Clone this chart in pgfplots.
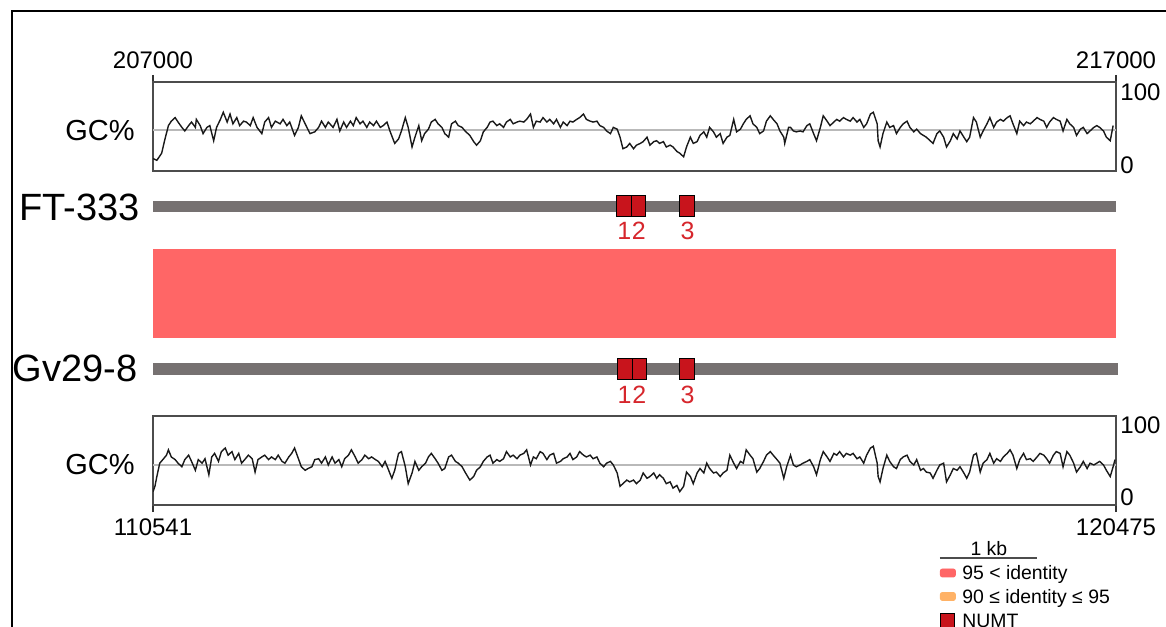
\documentclass[border=0pt]{standalone}
\usepackage{pgfplots}
\pgfplotsset{compat=1.18}
\usepackage{fontspec}
\setmainfont{Liberation Sans}
\definecolor{pinkband}{RGB}{255,102,102}
\definecolor{orangeband}{RGB}{255,178,102}
\definecolor{numtred}{RGB}{200,20,28}
\definecolor{labelred}{RGB}{214,38,44}
\definecolor{trackgray}{RGB}{118,113,113}
\newcommand\tickfont{\fontsize{12}{14}\selectfont}
\newcommand\gcfont{\fontsize{14.5}{17}\selectfont}
\newcommand\namefont{\fontsize{19}{22}\selectfont}
\newcommand\numfont{\fontsize{12.5}{15}\selectfont}
\newcommand\legfont{\fontsize{9.7}{11}\selectfont}
\pgfplotsset{gcaxis/.style={scale only axis, width=481.5pt, height=44.5pt,
  xmin=0, xmax=10, ymin=0, ymax=100, ytick=\empty, xtick={0,10}, xticklabels={,,},
  tick align=outside, major tick length=3.5pt,
  axis line style={black!70, line width=0.6pt},
  tick style={black!80, line width=0.6pt},
  clip mode=individual}}
\begin{document}
\begin{tikzpicture}
% ---------- top GC% ----------
\begin{axis}[gcaxis, at={(76.5pt,-85.5pt)}, anchor=south west, xtick pos=right]
\addplot[gray!55, line width=0.7pt, forget plot] coordinates {(0,46) (10,46)};
\addplot[black!90, line width=0.7pt] coordinates {
(0.00,14)(0.04,12)(0.09,20)(0.12,34)(0.16,51)(0.19,56)(0.23,60)(0.26,55)(0.30,49)(0.33,45)(0.37,51)(0.40,55)(0.44,49)(0.45,58)(0.49,51)(0.52,42)(0.56,49)(0.59,51)(0.63,34)(0.66,49)(0.70,58)(0.73,66)(0.77,55)(0.80,64)(0.83,53)(0.87,60)(0.90,51)(0.94,56)(0.97,55)(1.01,51)(1.04,60)(1.08,49)(1.13,42)(1.16,55)(1.20,60)(1.23,49)(1.27,56)(1.32,53)(1.35,58)(1.39,51)(1.42,55)(1.47,40)(1.51,49)(1.54,62)(1.58,53)(1.63,42)(1.68,44)(1.72,49)(1.75,56)(1.79,49)(1.82,55)(1.87,49)(1.91,58)(1.94,45)(1.98,55)(2.01,49)(2.05,56)(2.08,51)(2.11,60)(2.15,53)(2.18,56)(2.22,49)(2.25,55)(2.29,51)(2.32,56)(2.36,49)(2.39,51)(2.43,55)(2.46,45)(2.51,31)(2.55,36)(2.58,45)(2.62,60)(2.65,49)(2.69,27)(2.72,38)(2.76,51)(2.79,34)(2.82,42)(2.86,47)(2.89,55)(2.93,58)(2.96,53)(3.00,49)(3.03,42)(3.07,38)(3.10,53)(3.14,56)(3.17,51)(3.21,49)(3.24,45)(3.27,42)
(3.29,40)(3.33,33)(3.36,29)(3.40,34)(3.43,44)(3.47,49)(3.50,55)(3.53,56)(3.57,51)(3.60,53)(3.64,49)(3.67,55)(3.71,58)(3.74,53)(3.78,55)(3.81,56)(3.85,55)(3.88,58)(3.92,64)(3.95,49)(3.98,56)(4.02,55)(4.05,60)(4.09,55)(4.12,58)(4.16,53)(4.19,58)(4.23,49)(4.26,55)(4.30,51)(4.33,56)(4.36,55)(4.40,58)(4.43,60)(4.47,64)(4.50,58)(4.54,56)(4.57,55)(4.61,56)(4.64,51)(4.68,49)(4.71,45)(4.75,42)(4.78,49)(4.82,47)(4.85,38)(4.88,25)(4.92,27)(4.95,31)(4.99,25)(5.02,29)(5.06,31)(5.09,33)(5.13,38)(5.16,29)(5.20,33)(5.23,34)(5.26,31)(5.30,33)(5.33,27)(5.37,29)(5.40,27)(5.44,22)(5.47,20)(5.51,16)(5.54,27)(5.58,38)(5.61,31)(5.65,33)(5.68,40)(5.72,44)(5.75,38)(5.78,49)(5.82,44)(5.85,38)(5.89,42)(5.92,31)(5.96,38)(5.99,40)(6.03,58)(6.06,44)(6.10,47)(6.13,53)(6.16,58)(6.20,62)(6.23,53)(6.27,49)(6.30,42)(6.34,45)(6.37,56)(6.41,62)(6.44,58)(6.48,53)(6.51,45)(6.55,38)(6.56,31)(6.60,49)
(6.62,49)(6.65,45)(6.68,44)(6.72,45)(6.75,44)(6.79,51)(6.82,53)(6.86,42)(6.89,34)(6.93,49)(6.96,62)(7.00,56)(7.03,51)(7.07,55)(7.10,58)(7.13,56)(7.17,60)(7.20,58)(7.24,56)(7.27,60)(7.31,55)(7.34,58)(7.38,49)(7.41,53)(7.45,64)(7.48,66)(7.52,53)(7.53,34)(7.55,27)(7.58,42)(7.62,55)(7.65,49)(7.69,51)(7.72,42)(7.76,49)(7.79,53)(7.83,56)(7.86,49)(7.90,44)(7.93,47)(7.97,42)(8.00,40)(8.03,38)(8.07,34)(8.10,31)(8.14,42)(8.17,45)(8.21,38)(8.24,27)(8.28,34)(8.31,42)(8.35,36)(8.38,45)(8.42,38)(8.45,33)(8.48,38)(8.52,60)(8.55,55)(8.59,38)(8.62,45)(8.66,53)(8.69,60)(8.73,49)(8.76,55)(8.80,58)(8.83,56)(8.87,60)(8.90,62)(8.93,53)(8.97,42)(9.00,56)(9.04,51)(9.07,55)(9.11,53)(9.14,56)(9.18,60)(9.21,58)(9.25,56)(9.28,49)(9.31,55)(9.35,60)(9.38,58)(9.42,56)(9.45,45)(9.49,58)(9.52,53)(9.56,49)(9.59,40)(9.63,47)(9.66,49)(9.70,42)(9.73,45)(9.77,49)(9.80,51)(9.83,49)(9.87,45)(9.90,38)(9.94,34)(9.97,51)
};
\node[anchor=east, inner sep=0pt, font=\gcfont, xshift=-9pt] at (axis description cs:0,0.45) {GC\%};
\node[inner sep=0pt, font=\tickfont, yshift=11pt] at (rel axis cs:0,1) {207000};
\node[inner sep=0pt, font=\tickfont, yshift=11pt] at (rel axis cs:1,1) {217000};
\node[anchor=west, inner sep=0pt, font=\tickfont, xshift=2pt, yshift=-5pt] at (rel axis cs:1,1) {100};
\node[anchor=west, inner sep=0pt, font=\tickfont, xshift=2pt, yshift=3pt] at (rel axis cs:1,0) {0};
\end{axis}
% ---------- tracks and alignment ----------
\begin{axis}[scale only axis, width=481.5pt, height=115pt, at={(76.5pt,-207.5pt)}, anchor=south west,
  xmin=0, xmax=10, ymin=0, ymax=230, hide axis, clip=false]
% alignment band (95 < identity)
\addplot[fill=pinkband, draw=none] coordinates {(0,77) (10,77) (10,166) (0,166)} -- cycle;
% FT-333 track
\addplot[fill=trackgray, draw=none] coordinates {(0,203.3) (10,203.3) (10,214.3) (0,214.3)} -- cycle;
% Gv29-8 track
\addplot[fill=trackgray, draw=none] coordinates {(0,40) (10.02,40) (10.02,52.5) (0,52.5)} -- cycle;
% NUMTs FT-333
\addplot[fill=numtred, draw=black, line width=0.5pt] coordinates {(4.815,199) (4.971,199) (4.971,220) (4.815,220)} -- cycle;
\addplot[fill=numtred, draw=black, line width=0.5pt] coordinates {(4.971,199) (5.116,199) (5.116,220) (4.971,220)} -- cycle;
\addplot[fill=numtred, draw=black, line width=0.5pt] coordinates {(5.472,199) (5.628,199) (5.628,220) (5.472,220)} -- cycle;
% NUMTs Gv29-8
\addplot[fill=numtred, draw=black, line width=0.5pt] coordinates {(4.820,35.5) (4.976,35.5) (4.976,56.5) (4.820,56.5)} -- cycle;
\addplot[fill=numtred, draw=black, line width=0.5pt] coordinates {(4.976,35.5) (5.121,35.5) (5.121,56.5) (4.976,56.5)} -- cycle;
\addplot[fill=numtred, draw=black, line width=0.5pt] coordinates {(5.472,35.5) (5.628,35.5) (5.628,56.5) (5.472,56.5)} -- cycle;
\node[text=labelred, font=\numfont, inner sep=0pt] at (axis cs:4.893,184) {1};
\node[text=labelred, font=\numfont, inner sep=0pt] at (axis cs:5.044,184) {2};
\node[text=labelred, font=\numfont, inner sep=0pt] at (axis cs:5.550,184) {3};
\node[text=labelred, font=\numfont, inner sep=0pt] at (axis cs:4.898,20) {1};
\node[text=labelred, font=\numfont, inner sep=0pt] at (axis cs:5.049,20) {2};
\node[text=labelred, font=\numfont, inner sep=0pt] at (axis cs:5.550,20) {3};
\node[anchor=east, inner sep=0pt, font=\namefont, xshift=-6.5pt] at (axis cs:0,207.5) {FT-333};
\node[anchor=east, inner sep=0pt, font=\namefont, xshift=-7.5pt] at (axis cs:0,47) {Gv29-8};
\end{axis}
% ---------- bottom GC% ----------
\begin{axis}[gcaxis, at={(76.5pt,-252.5pt)}, anchor=south west, xtick pos=left,
  legend style={draw=none, fill=none, at={(axis description cs:0.8172,-0.685)}, anchor=north west,
    inner sep=0pt, outer sep=0pt, font=\legfont, row sep=2.75pt,
    nodes={inner ysep=0pt, inner xsep=3.3pt, text height=7pt, text depth=2pt}},
  legend cell align=left]
\addplot[gray!55, line width=0.7pt, forget plot] coordinates {(0,45) (10,45)};
\addplot[black!90, line width=0.7pt, forget plot] coordinates {
(0.00,15)(0.02,21)(0.04,32)(0.07,47)(0.11,52)(0.14,56)(0.16,62)(0.19,54)(0.23,51)(0.26,47)(0.30,43)(0.33,51)(0.37,56)(0.40,49)(0.44,39)(0.47,51)(0.51,47)(0.54,52)(0.58,34)(0.61,54)(0.64,58)(0.68,49)(0.71,60)(0.75,64)(0.78,56)(0.82,60)(0.85,51)(0.89,58)(0.92,47)(0.96,52)(0.99,56)(1.03,52)(1.06,37)(1.09,51)(1.13,54)(1.16,56)(1.20,51)(1.23,54)(1.27,51)(1.30,56)(1.34,49)(1.37,47)(1.41,54)(1.44,58)(1.47,64)(1.51,52)(1.54,43)(1.58,39)(1.61,41)(1.65,43)(1.68,51)(1.72,52)(1.75,47)(1.79,54)(1.82,45)(1.86,54)(1.89,47)(1.93,51)(1.96,43)(1.99,52)(2.03,56)(2.06,62)(2.10,54)(2.13,47)(2.17,51)(2.20,56)(2.24,52)(2.27,54)(2.31,51)(2.34,49)(2.38,43)(2.41,49)(2.44,41)(2.48,30)(2.51,39)(2.55,58)(2.58,60)(2.62,43)(2.65,24)(2.69,36)(2.72,49)(2.76,39)(2.79,43)(2.83,47)(2.86,54)(2.89,58)(2.93,52)(2.96,47)(3.00,39)(3.03,41)(3.07,54)(3.10,56)(3.14,49)(3.17,47)(3.21,43)(3.24,37)
(3.29,28)(3.33,32)(3.36,39)(3.40,43)(3.43,49)(3.47,54)(3.50,56)(3.53,47)(3.57,51)(3.60,49)(3.64,52)(3.67,60)(3.71,54)(3.74,56)(3.78,52)(3.81,56)(3.85,58)(3.88,62)(3.92,45)(3.95,54)(3.98,52)(4.02,60)(4.05,58)(4.09,51)(4.12,56)(4.16,58)(4.19,47)(4.23,49)(4.26,52)(4.30,54)(4.33,58)(4.36,51)(4.40,54)(4.43,60)(4.47,56)(4.50,54)(4.54,56)(4.57,52)(4.61,54)(4.64,47)(4.68,43)(4.71,47)(4.75,49)(4.78,45)(4.82,36)(4.85,21)(4.88,24)(4.92,28)(4.95,26)(4.99,28)(5.02,24)(5.06,28)(5.09,36)(5.13,30)(5.16,32)(5.20,36)(5.23,30)(5.26,34)(5.30,30)(5.33,24)(5.37,26)(5.40,19)(5.44,22)(5.47,15)(5.51,21)(5.54,37)(5.58,32)(5.61,24)(5.65,36)(5.68,41)(5.72,36)(5.75,47)(5.78,41)(5.82,36)(5.85,37)(5.89,32)(5.92,36)(5.96,39)(5.99,56)(6.03,47)(6.06,41)(6.10,49)(6.13,47)(6.16,62)(6.20,56)(6.23,52)(6.27,37)(6.30,41)(6.34,49)(6.37,56)(6.41,60)(6.44,56)(6.48,51)(6.51,47)(6.55,30)(6.58,43)(6.62,56)
(6.65,45)(6.68,43)(6.72,45)(6.75,47)(6.79,49)(6.82,51)(6.86,43)(6.89,34)(6.93,51)(6.96,60)(7.00,54)(7.03,49)(7.07,58)(7.10,56)(7.13,60)(7.17,54)(7.20,58)(7.24,56)(7.27,58)(7.31,52)(7.34,54)(7.38,47)(7.41,56)(7.45,64)(7.48,66)(7.52,47)(7.53,32)(7.55,26)(7.58,41)(7.62,56)(7.65,49)(7.69,43)(7.72,41)(7.76,51)(7.79,54)(7.83,56)(7.86,49)(7.90,45)(7.93,51)(7.97,39)(8.00,41)(8.03,37)(8.07,36)(8.10,30)(8.14,39)(8.17,45)(8.21,47)(8.24,26)(8.28,34)(8.31,41)(8.35,39)(8.38,43)(8.42,36)(8.45,30)(8.48,37)(8.52,56)(8.55,58)(8.59,37)(8.62,47)(8.66,51)(8.69,58)(8.73,47)(8.76,52)(8.80,49)(8.83,54)(8.87,58)(8.90,62)(8.93,56)(8.97,41)(9.00,51)(9.04,58)(9.07,51)(9.11,52)(9.14,49)(9.18,54)(9.21,58)(9.25,56)(9.28,52)(9.31,47)(9.35,56)(9.38,60)(9.42,58)(9.45,43)(9.49,60)(9.52,56)(9.56,47)(9.59,37)(9.63,43)(9.66,49)(9.70,41)(9.73,47)(9.77,45)(9.80,47)(9.83,49)(9.87,45)(9.90,39)(9.94,32)(9.97,43)(9.99,51)
};
\addlegendimage{legend image code/.code={\fill[pinkband, rounded corners=1pt] (0pt,-1pt) rectangle (7.5pt,3pt);}}
\addlegendentry{95 < identity}
\addlegendimage{legend image code/.code={\fill[orangeband, rounded corners=1pt] (0pt,-1pt) rectangle (7.5pt,3pt);}}
\addlegendentry{90 ≤ identity ≤ 95}
\addlegendimage{legend image code/.code={\filldraw[fill=numtred, draw=black, line width=0.5pt] (0.3pt,-2.5pt) rectangle (7.2pt,4.5pt);}}
\addlegendentry{NUMT}
\node[anchor=east, inner sep=0pt, font=\gcfont, xshift=-9pt] at (axis description cs:0,0.45) {GC\%};
\node[inner sep=0pt, font=\tickfont, yshift=-11pt] at (rel axis cs:0,0) {110541};
\node[inner sep=0pt, font=\tickfont, yshift=-11pt] at (rel axis cs:1,0) {120475};
\node[anchor=west, inner sep=0pt, font=\tickfont, xshift=2pt, yshift=-4.5pt] at (rel axis cs:1,1) {100};
\node[anchor=west, inner sep=0pt, font=\tickfont, xshift=2pt, yshift=4pt] at (rel axis cs:1,0) {0};
% 1 kb scale bar
\draw[black!70, line width=0.9pt] (axis cs:8.17,-59.6) -- (axis cs:9.18,-59.6);
\node[inner sep=0pt, font=\legfont] at (axis cs:8.68,-49.5) {1 kb};
\end{axis}
% frame
\draw[black, line width=1pt] (5.75pt,-330pt) -- (5.75pt,-5.75pt) -- (600pt,-5.75pt);
\pgfresetboundingbox
\path[use as bounding box] (0pt,0pt) rectangle (583pt,-313pt);
\end{tikzpicture}
\end{document}
